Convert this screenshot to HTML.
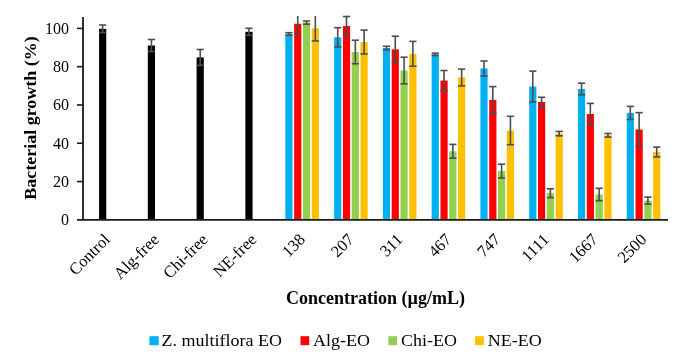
<!DOCTYPE html>
<html><head><meta charset="utf-8"><style>
html,body{margin:0;padding:0;background:#fff;}
body{width:685px;height:364px;overflow:hidden;}
svg{display:block;will-change:transform;}
.tk{font-family:"Liberation Serif",serif;font-size:16px;fill:#000;}
.tt{font-family:"Liberation Serif",serif;font-size:18px;font-weight:bold;fill:#000;}
.lg{font-family:"Liberation Serif",serif;font-size:18px;fill:#000;}
</style></head><body>
<svg width="685" height="364" viewBox="0 0 685 364">
<rect x="99.06" y="28.80" width="7.2" height="191.00" fill="#000"/><rect x="147.82" y="45.50" width="7.2" height="174.30" fill="#000"/><rect x="196.60" y="57.40" width="7.2" height="162.40" fill="#000"/><rect x="245.37" y="31.80" width="7.2" height="188.00" fill="#000"/><rect x="285.33" y="34.00" width="7.2" height="185.80" fill="#00B0F0"/><rect x="294.13" y="23.80" width="7.2" height="196.00" fill="#FF0000"/><rect x="302.93" y="22.60" width="7.2" height="197.20" fill="#92D050"/><rect x="311.73" y="28.30" width="7.2" height="191.50" fill="#FFC000"/><rect x="334.11" y="37.30" width="7.2" height="182.50" fill="#00B0F0"/><rect x="342.91" y="26.00" width="7.2" height="193.80" fill="#FF0000"/><rect x="351.70" y="52.00" width="7.2" height="167.80" fill="#92D050"/><rect x="360.50" y="42.00" width="7.2" height="177.80" fill="#FFC000"/><rect x="382.88" y="48.00" width="7.2" height="171.80" fill="#00B0F0"/><rect x="391.68" y="49.40" width="7.2" height="170.40" fill="#FF0000"/><rect x="400.47" y="70.50" width="7.2" height="149.30" fill="#92D050"/><rect x="409.27" y="53.80" width="7.2" height="166.00" fill="#FFC000"/><rect x="431.65" y="54.30" width="7.2" height="165.50" fill="#00B0F0"/><rect x="440.45" y="80.50" width="7.2" height="139.30" fill="#FF0000"/><rect x="449.25" y="151.30" width="7.2" height="68.50" fill="#92D050"/><rect x="458.05" y="77.50" width="7.2" height="142.30" fill="#FFC000"/><rect x="480.42" y="68.50" width="7.2" height="151.30" fill="#00B0F0"/><rect x="489.22" y="99.90" width="7.2" height="119.90" fill="#FF0000"/><rect x="498.01" y="171.10" width="7.2" height="48.70" fill="#92D050"/><rect x="506.81" y="130.50" width="7.2" height="89.30" fill="#FFC000"/><rect x="529.18" y="86.50" width="7.2" height="133.30" fill="#00B0F0"/><rect x="537.99" y="102.00" width="7.2" height="117.80" fill="#FF0000"/><rect x="546.78" y="193.20" width="7.2" height="26.60" fill="#92D050"/><rect x="555.59" y="133.60" width="7.2" height="86.20" fill="#FFC000"/><rect x="577.95" y="89.00" width="7.2" height="130.80" fill="#00B0F0"/><rect x="586.75" y="114.00" width="7.2" height="105.80" fill="#FF0000"/><rect x="595.55" y="194.50" width="7.2" height="25.30" fill="#92D050"/><rect x="604.36" y="135.30" width="7.2" height="84.50" fill="#FFC000"/><rect x="626.72" y="112.90" width="7.2" height="106.90" fill="#00B0F0"/><rect x="635.52" y="129.50" width="7.2" height="90.30" fill="#FF0000"/><rect x="644.32" y="200.60" width="7.2" height="19.20" fill="#92D050"/><rect x="653.12" y="152.00" width="7.2" height="67.80" fill="#FFC000"/><line x1="102.66" y1="25.00" x2="102.66" y2="32.60" stroke="#4d4d4d" stroke-width="1.6"/><line x1="99.06" y1="25.00" x2="106.25" y2="25.00" stroke="#4d4d4d" stroke-width="1.6"/><line x1="99.06" y1="32.60" x2="106.25" y2="32.60" stroke="#4d4d4d" stroke-width="1.6"/><line x1="151.42" y1="39.50" x2="151.42" y2="51.50" stroke="#4d4d4d" stroke-width="1.6"/><line x1="147.82" y1="39.50" x2="155.02" y2="39.50" stroke="#4d4d4d" stroke-width="1.6"/><line x1="147.82" y1="51.50" x2="155.02" y2="51.50" stroke="#4d4d4d" stroke-width="1.6"/><line x1="200.20" y1="49.50" x2="200.20" y2="65.30" stroke="#4d4d4d" stroke-width="1.6"/><line x1="196.60" y1="49.50" x2="203.80" y2="49.50" stroke="#4d4d4d" stroke-width="1.6"/><line x1="196.60" y1="65.30" x2="203.80" y2="65.30" stroke="#4d4d4d" stroke-width="1.6"/><line x1="248.97" y1="28.30" x2="248.97" y2="35.30" stroke="#4d4d4d" stroke-width="1.6"/><line x1="245.37" y1="28.30" x2="252.56" y2="28.30" stroke="#4d4d4d" stroke-width="1.6"/><line x1="245.37" y1="35.30" x2="252.56" y2="35.30" stroke="#4d4d4d" stroke-width="1.6"/><line x1="288.94" y1="32.70" x2="288.94" y2="35.30" stroke="#4d4d4d" stroke-width="1.6"/><line x1="285.33" y1="32.70" x2="292.54" y2="32.70" stroke="#4d4d4d" stroke-width="1.6"/><line x1="285.33" y1="35.30" x2="292.54" y2="35.30" stroke="#4d4d4d" stroke-width="1.6"/><line x1="297.74" y1="16.00" x2="297.74" y2="34.50" stroke="#4d4d4d" stroke-width="1.6"/><line x1="294.13" y1="34.50" x2="301.34" y2="34.50" stroke="#4d4d4d" stroke-width="1.6"/><line x1="306.53" y1="21.00" x2="306.53" y2="24.20" stroke="#4d4d4d" stroke-width="1.6"/><line x1="302.93" y1="21.00" x2="310.13" y2="21.00" stroke="#4d4d4d" stroke-width="1.6"/><line x1="302.93" y1="24.20" x2="310.13" y2="24.20" stroke="#4d4d4d" stroke-width="1.6"/><line x1="315.33" y1="16.00" x2="315.33" y2="40.90" stroke="#4d4d4d" stroke-width="1.6"/><line x1="311.73" y1="40.90" x2="318.94" y2="40.90" stroke="#4d4d4d" stroke-width="1.6"/><line x1="337.71" y1="27.70" x2="337.71" y2="46.90" stroke="#4d4d4d" stroke-width="1.6"/><line x1="334.11" y1="27.70" x2="341.31" y2="27.70" stroke="#4d4d4d" stroke-width="1.6"/><line x1="334.11" y1="46.90" x2="341.31" y2="46.90" stroke="#4d4d4d" stroke-width="1.6"/><line x1="346.51" y1="16.50" x2="346.51" y2="35.50" stroke="#4d4d4d" stroke-width="1.6"/><line x1="342.91" y1="16.50" x2="350.11" y2="16.50" stroke="#4d4d4d" stroke-width="1.6"/><line x1="342.91" y1="35.50" x2="350.11" y2="35.50" stroke="#4d4d4d" stroke-width="1.6"/><line x1="355.31" y1="40.20" x2="355.31" y2="63.80" stroke="#4d4d4d" stroke-width="1.6"/><line x1="351.70" y1="40.20" x2="358.91" y2="40.20" stroke="#4d4d4d" stroke-width="1.6"/><line x1="351.70" y1="63.80" x2="358.91" y2="63.80" stroke="#4d4d4d" stroke-width="1.6"/><line x1="364.11" y1="30.10" x2="364.11" y2="53.90" stroke="#4d4d4d" stroke-width="1.6"/><line x1="360.50" y1="30.10" x2="367.71" y2="30.10" stroke="#4d4d4d" stroke-width="1.6"/><line x1="360.50" y1="53.90" x2="367.71" y2="53.90" stroke="#4d4d4d" stroke-width="1.6"/><line x1="386.48" y1="46.30" x2="386.48" y2="49.70" stroke="#4d4d4d" stroke-width="1.6"/><line x1="382.88" y1="46.30" x2="390.08" y2="46.30" stroke="#4d4d4d" stroke-width="1.6"/><line x1="382.88" y1="49.70" x2="390.08" y2="49.70" stroke="#4d4d4d" stroke-width="1.6"/><line x1="395.28" y1="36.20" x2="395.28" y2="62.60" stroke="#4d4d4d" stroke-width="1.6"/><line x1="391.68" y1="36.20" x2="398.88" y2="36.20" stroke="#4d4d4d" stroke-width="1.6"/><line x1="391.68" y1="62.60" x2="398.88" y2="62.60" stroke="#4d4d4d" stroke-width="1.6"/><line x1="404.07" y1="57.20" x2="404.07" y2="83.80" stroke="#4d4d4d" stroke-width="1.6"/><line x1="400.47" y1="57.20" x2="407.68" y2="57.20" stroke="#4d4d4d" stroke-width="1.6"/><line x1="400.47" y1="83.80" x2="407.68" y2="83.80" stroke="#4d4d4d" stroke-width="1.6"/><line x1="412.88" y1="41.40" x2="412.88" y2="66.20" stroke="#4d4d4d" stroke-width="1.6"/><line x1="409.27" y1="41.40" x2="416.48" y2="41.40" stroke="#4d4d4d" stroke-width="1.6"/><line x1="409.27" y1="66.20" x2="416.48" y2="66.20" stroke="#4d4d4d" stroke-width="1.6"/><line x1="435.25" y1="53.10" x2="435.25" y2="55.50" stroke="#4d4d4d" stroke-width="1.6"/><line x1="431.65" y1="53.10" x2="438.85" y2="53.10" stroke="#4d4d4d" stroke-width="1.6"/><line x1="431.65" y1="55.50" x2="438.85" y2="55.50" stroke="#4d4d4d" stroke-width="1.6"/><line x1="444.05" y1="70.50" x2="444.05" y2="90.50" stroke="#4d4d4d" stroke-width="1.6"/><line x1="440.45" y1="70.50" x2="447.65" y2="70.50" stroke="#4d4d4d" stroke-width="1.6"/><line x1="440.45" y1="90.50" x2="447.65" y2="90.50" stroke="#4d4d4d" stroke-width="1.6"/><line x1="452.85" y1="144.40" x2="452.85" y2="158.20" stroke="#4d4d4d" stroke-width="1.6"/><line x1="449.25" y1="144.40" x2="456.45" y2="144.40" stroke="#4d4d4d" stroke-width="1.6"/><line x1="449.25" y1="158.20" x2="456.45" y2="158.20" stroke="#4d4d4d" stroke-width="1.6"/><line x1="461.65" y1="69.10" x2="461.65" y2="85.90" stroke="#4d4d4d" stroke-width="1.6"/><line x1="458.05" y1="69.10" x2="465.25" y2="69.10" stroke="#4d4d4d" stroke-width="1.6"/><line x1="458.05" y1="85.90" x2="465.25" y2="85.90" stroke="#4d4d4d" stroke-width="1.6"/><line x1="484.02" y1="61.00" x2="484.02" y2="76.00" stroke="#4d4d4d" stroke-width="1.6"/><line x1="480.42" y1="61.00" x2="487.62" y2="61.00" stroke="#4d4d4d" stroke-width="1.6"/><line x1="480.42" y1="76.00" x2="487.62" y2="76.00" stroke="#4d4d4d" stroke-width="1.6"/><line x1="492.82" y1="86.60" x2="492.82" y2="113.20" stroke="#4d4d4d" stroke-width="1.6"/><line x1="489.22" y1="86.60" x2="496.42" y2="86.60" stroke="#4d4d4d" stroke-width="1.6"/><line x1="489.22" y1="113.20" x2="496.42" y2="113.20" stroke="#4d4d4d" stroke-width="1.6"/><line x1="501.62" y1="164.20" x2="501.62" y2="178.00" stroke="#4d4d4d" stroke-width="1.6"/><line x1="498.01" y1="164.20" x2="505.22" y2="164.20" stroke="#4d4d4d" stroke-width="1.6"/><line x1="498.01" y1="178.00" x2="505.22" y2="178.00" stroke="#4d4d4d" stroke-width="1.6"/><line x1="510.42" y1="116.30" x2="510.42" y2="144.70" stroke="#4d4d4d" stroke-width="1.6"/><line x1="506.81" y1="116.30" x2="514.01" y2="116.30" stroke="#4d4d4d" stroke-width="1.6"/><line x1="506.81" y1="144.70" x2="514.01" y2="144.70" stroke="#4d4d4d" stroke-width="1.6"/><line x1="532.78" y1="71.10" x2="532.78" y2="101.90" stroke="#4d4d4d" stroke-width="1.6"/><line x1="529.18" y1="71.10" x2="536.38" y2="71.10" stroke="#4d4d4d" stroke-width="1.6"/><line x1="529.18" y1="101.90" x2="536.38" y2="101.90" stroke="#4d4d4d" stroke-width="1.6"/><line x1="541.59" y1="97.30" x2="541.59" y2="106.70" stroke="#4d4d4d" stroke-width="1.6"/><line x1="537.99" y1="97.30" x2="545.19" y2="97.30" stroke="#4d4d4d" stroke-width="1.6"/><line x1="537.99" y1="106.70" x2="545.19" y2="106.70" stroke="#4d4d4d" stroke-width="1.6"/><line x1="550.38" y1="188.80" x2="550.38" y2="197.60" stroke="#4d4d4d" stroke-width="1.6"/><line x1="546.78" y1="188.80" x2="553.99" y2="188.80" stroke="#4d4d4d" stroke-width="1.6"/><line x1="546.78" y1="197.60" x2="553.99" y2="197.60" stroke="#4d4d4d" stroke-width="1.6"/><line x1="559.19" y1="131.40" x2="559.19" y2="135.80" stroke="#4d4d4d" stroke-width="1.6"/><line x1="555.59" y1="131.40" x2="562.79" y2="131.40" stroke="#4d4d4d" stroke-width="1.6"/><line x1="555.59" y1="135.80" x2="562.79" y2="135.80" stroke="#4d4d4d" stroke-width="1.6"/><line x1="581.55" y1="83.20" x2="581.55" y2="94.80" stroke="#4d4d4d" stroke-width="1.6"/><line x1="577.95" y1="83.20" x2="585.15" y2="83.20" stroke="#4d4d4d" stroke-width="1.6"/><line x1="577.95" y1="94.80" x2="585.15" y2="94.80" stroke="#4d4d4d" stroke-width="1.6"/><line x1="590.36" y1="103.40" x2="590.36" y2="124.60" stroke="#4d4d4d" stroke-width="1.6"/><line x1="586.75" y1="103.40" x2="593.96" y2="103.40" stroke="#4d4d4d" stroke-width="1.6"/><line x1="586.75" y1="124.60" x2="593.96" y2="124.60" stroke="#4d4d4d" stroke-width="1.6"/><line x1="599.15" y1="188.30" x2="599.15" y2="200.70" stroke="#4d4d4d" stroke-width="1.6"/><line x1="595.55" y1="188.30" x2="602.75" y2="188.30" stroke="#4d4d4d" stroke-width="1.6"/><line x1="595.55" y1="200.70" x2="602.75" y2="200.70" stroke="#4d4d4d" stroke-width="1.6"/><line x1="607.96" y1="133.50" x2="607.96" y2="137.10" stroke="#4d4d4d" stroke-width="1.6"/><line x1="604.36" y1="133.50" x2="611.56" y2="133.50" stroke="#4d4d4d" stroke-width="1.6"/><line x1="604.36" y1="137.10" x2="611.56" y2="137.10" stroke="#4d4d4d" stroke-width="1.6"/><line x1="630.32" y1="106.40" x2="630.32" y2="119.40" stroke="#4d4d4d" stroke-width="1.6"/><line x1="626.72" y1="106.40" x2="633.92" y2="106.40" stroke="#4d4d4d" stroke-width="1.6"/><line x1="626.72" y1="119.40" x2="633.92" y2="119.40" stroke="#4d4d4d" stroke-width="1.6"/><line x1="639.12" y1="112.65" x2="639.12" y2="146.35" stroke="#4d4d4d" stroke-width="1.6"/><line x1="635.52" y1="112.65" x2="642.73" y2="112.65" stroke="#4d4d4d" stroke-width="1.6"/><line x1="635.52" y1="146.35" x2="642.73" y2="146.35" stroke="#4d4d4d" stroke-width="1.6"/><line x1="647.92" y1="197.10" x2="647.92" y2="204.10" stroke="#4d4d4d" stroke-width="1.6"/><line x1="644.32" y1="197.10" x2="651.52" y2="197.10" stroke="#4d4d4d" stroke-width="1.6"/><line x1="644.32" y1="204.10" x2="651.52" y2="204.10" stroke="#4d4d4d" stroke-width="1.6"/><line x1="656.73" y1="147.10" x2="656.73" y2="156.90" stroke="#4d4d4d" stroke-width="1.6"/><line x1="653.12" y1="147.10" x2="660.33" y2="147.10" stroke="#4d4d4d" stroke-width="1.6"/><line x1="653.12" y1="156.90" x2="660.33" y2="156.90" stroke="#4d4d4d" stroke-width="1.6"/>
<line x1="83" y1="17" x2="83" y2="220.5" stroke="#1a1a1a" stroke-width="1.8"/><line x1="77" y1="219.8" x2="668" y2="219.8" stroke="#1a1a1a" stroke-width="1.8"/><line x1="77" y1="181.52" x2="83" y2="181.52" stroke="#1a1a1a" stroke-width="1.6"/><line x1="77" y1="143.24" x2="83" y2="143.24" stroke="#1a1a1a" stroke-width="1.6"/><line x1="77" y1="104.96" x2="83" y2="104.96" stroke="#1a1a1a" stroke-width="1.6"/><line x1="77" y1="66.68" x2="83" y2="66.68" stroke="#1a1a1a" stroke-width="1.6"/><line x1="77" y1="28.40" x2="83" y2="28.40" stroke="#1a1a1a" stroke-width="1.6"/><text x="69" y="225.30" text-anchor="end" class="tk">0</text><text x="69" y="187.02" text-anchor="end" class="tk">20</text><text x="69" y="148.74" text-anchor="end" class="tk">40</text><text x="69" y="110.46" text-anchor="end" class="tk">60</text><text x="69" y="72.18" text-anchor="end" class="tk">80</text><text x="69" y="33.90" text-anchor="end" class="tk">100</text><text transform="translate(111.06,240.5) rotate(-45)" text-anchor="end" class="tk" style="font-size:16.5px">Control</text><text transform="translate(159.82,240.5) rotate(-45)" text-anchor="end" class="tk" style="font-size:16.5px">Alg-free</text><text transform="translate(208.60,240.5) rotate(-45)" text-anchor="end" class="tk" style="font-size:16.5px">Chi-free</text><text transform="translate(257.37,240.5) rotate(-45)" text-anchor="end" class="tk" style="font-size:16.5px">NE-free</text><text transform="translate(306.13,240.5) rotate(-45)" text-anchor="end" class="tk" style="font-size:16.5px">138</text><text transform="translate(354.91,240.5) rotate(-45)" text-anchor="end" class="tk" style="font-size:16.5px">207</text><text transform="translate(403.68,240.5) rotate(-45)" text-anchor="end" class="tk" style="font-size:16.5px">311</text><text transform="translate(452.45,240.5) rotate(-45)" text-anchor="end" class="tk" style="font-size:16.5px">467</text><text transform="translate(501.22,240.5) rotate(-45)" text-anchor="end" class="tk" style="font-size:16.5px">747</text><text transform="translate(549.99,240.5) rotate(-45)" text-anchor="end" class="tk" style="font-size:16.5px">1111</text><text transform="translate(598.75,240.5) rotate(-45)" text-anchor="end" class="tk" style="font-size:16.5px">1667</text><text transform="translate(647.52,240.5) rotate(-45)" text-anchor="end" class="tk" style="font-size:16.5px">2500</text>
<text transform="translate(36.2,118) rotate(-90) scale(1,0.93)" text-anchor="middle" class="tt">Bacterial growth (%)</text>
<text x="375.5" y="303.8" text-anchor="middle" class="tt">Concentration (µg/mL)</text>
<rect x="149.4" y="336.2" width="9.3" height="9" fill="#00B0F0"/>
<text transform="translate(161.5,346.4) scale(1,0.95)" class="lg">Z. multiflora EO</text>
<rect x="300.5" y="336.2" width="8.7" height="9" fill="#FF0000"/>
<text transform="translate(313,346.4) scale(1,0.95)" class="lg">Alg-EO</text>
<rect x="388.4" y="336.2" width="8.7" height="9" fill="#92D050"/>
<text transform="translate(401,346.4) scale(1,0.95)" class="lg">Chi-EO</text>
<rect x="475.1" y="336.2" width="8.7" height="9" fill="#FFC000"/>
<text transform="translate(487.8,346.4) scale(1,0.95)" class="lg">NE-EO</text>
</svg>
</body></html>
